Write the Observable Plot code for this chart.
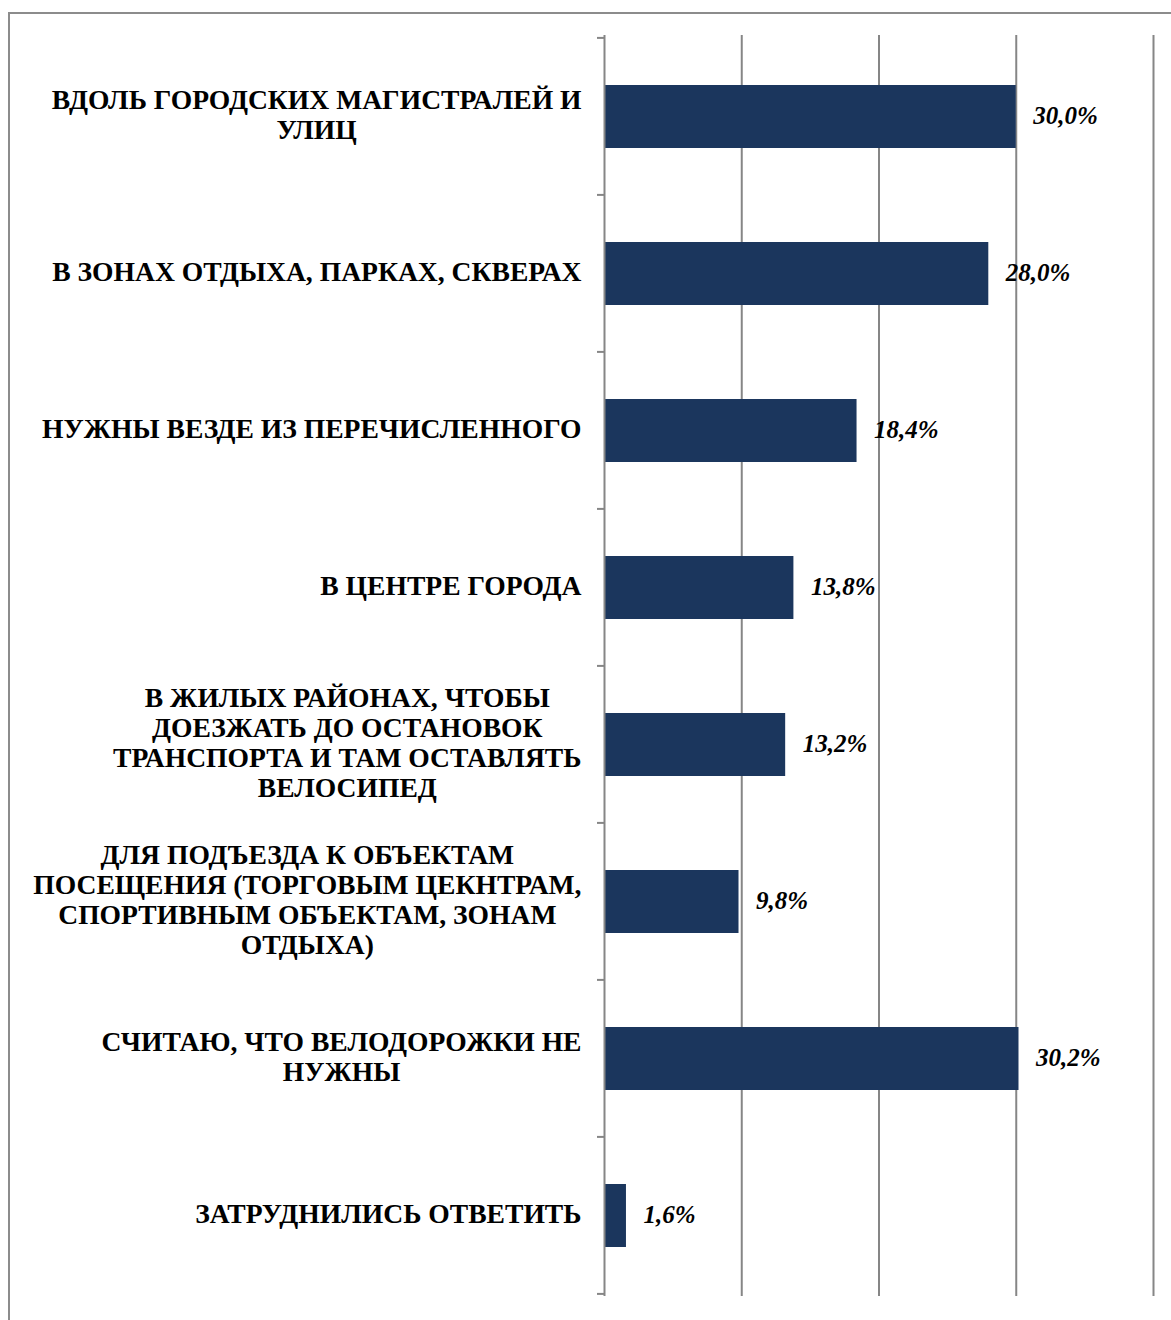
<!DOCTYPE html>
<html><head><meta charset="utf-8">
<script src="https://cdn.jsdelivr.net/npm/d3@7"></script>
<script src="https://cdn.jsdelivr.net/npm/@observablehq/plot@0.6"></script>
<style>
html,body{margin:0;padding:0;background:#fff;overflow:hidden;}
#wrap{position:relative;width:1171px;height:1320px;overflow:hidden;}
#border{position:absolute;left:8px;top:12px;width:1300px;height:1400px;border:2px solid #8c8c8c;box-sizing:border-box;}
#chart{position:absolute;left:0;top:0;}
</style></head><body>
<div id="wrap"><div id="border"></div><div id="chart"></div></div>
<script>
const categories = [
  "ВДОЛЬ ГОРОДСКИХ МАГИСТРАЛЕЙ И\nУЛИЦ",
  "В ЗОНАХ ОТДЫХА, ПАРКАХ, СКВЕРАХ",
  "НУЖНЫ ВЕЗДЕ ИЗ ПЕРЕЧИСЛЕННОГО",
  "В ЦЕНТРЕ ГОРОДА",
  "В ЖИЛЫХ РАЙОНАХ, ЧТОБЫ\nДОЕЗЖАТЬ ДО ОСТАНОВОК\nТРАНСПОРТА И ТАМ ОСТАВЛЯТЬ\nВЕЛОСИПЕД",
  "ДЛЯ ПОДЪЕЗДА К ОБЪЕКТАМ\nПОСЕЩЕНИЯ (ТОРГОВЫМ ЦЕКНТРАМ,\nСПОРТИВНЫМ ОБЪЕКТАМ, ЗОНАМ\nОТДЫХА)",
  "СЧИТАЮ, ЧТО ВЕЛОДОРОЖКИ НЕ\nНУЖНЫ",
  "ЗАТРУДНИЛИСЬ ОТВЕТИТЬ"
];
const values = [30.0, 28.0, 18.4, 13.8, 13.2, 9.8, 30.2, 1.6];
const valueLabels = ["30,0%", "28,0%", "18,4%", "13,8%", "13,2%", "9,8%", "30,2%", "1,6%"];
const gridTicks = [10, 20, 30, 40];

const rows = categories.map((c, i) => ({category: c, value: values[i], label: valueLabels[i]}));

const labelFontSize = 27.6;
const labelFamily = "Liberation Serif";
const canvas = document.createElement("canvas");
const ctx2d = canvas.getContext("2d");
ctx2d.font = `bold ${labelFontSize}px "${labelFamily}"`;
const maxLineWidth = s => d3.max(s.split("\n"), l => ctx2d.measureText(l).width);

const gray = "#868686";
const padInner = 0.6;

const labelMarks = rows.map(r => Plot.text([r], {
  x: 0, y: "category", text: "category",
  textAnchor: "middle", lineAnchor: "middle",
  dx: -(23 + maxLineWidth(r.category) / 2),
  dy: -3,
  lineHeight: 30 / labelFontSize,
  fontFamily: labelFamily, fontWeight: "bold", fontSize: labelFontSize, fill: "#000"
}));

const chart = Plot.plot({
  width: 1171, height: 1320,
  marginTop: 35, marginBottom: 24, marginLeft: 604, marginRight: 18,
  x: {domain: [0, 40], axis: null},
  y: {domain: categories, paddingInner: padInner, paddingOuter: padInner / 2, axis: null},
  marks: [
    Plot.ruleX(gridTicks, {stroke: gray, strokeWidth: 2}),
    Plot.barX(rows, {x: "value", y: "category", fill: "#1b365d"}),
    Plot.ruleX([0], {stroke: gray, strokeWidth: 2}),
    Plot.text(rows, {
      x: "value", y: "category", text: "label", textAnchor: "start", dx: 17, dy: -1,
      fontFamily: labelFamily, fontWeight: "bold", fontStyle: "italic", fontSize: 25, fill: "#000"
    }),
    ...labelMarks
  ]
});
chart.style.background = "transparent";
document.getElementById("chart").appendChild(chart);

// category boundary tick marks on the y axis
const ys = chart.scale("y");
const xs = chart.scale("x");
const step = ys.step;
const gap = step * padInner;
const bounds = categories.map(c => ys.apply(c) - gap / 2);
bounds.push(bounds[bounds.length - 1] + step);
const x0 = xs.apply(0);
d3.select(chart).append("g")
  .selectAll("line").data(bounds).join("line")
  .attr("x1", x0 - 7).attr("x2", x0)
  .attr("y1", d => d).attr("y2", d => d)
  .attr("stroke", gray).attr("stroke-width", 2);
</script>
</body></html>
